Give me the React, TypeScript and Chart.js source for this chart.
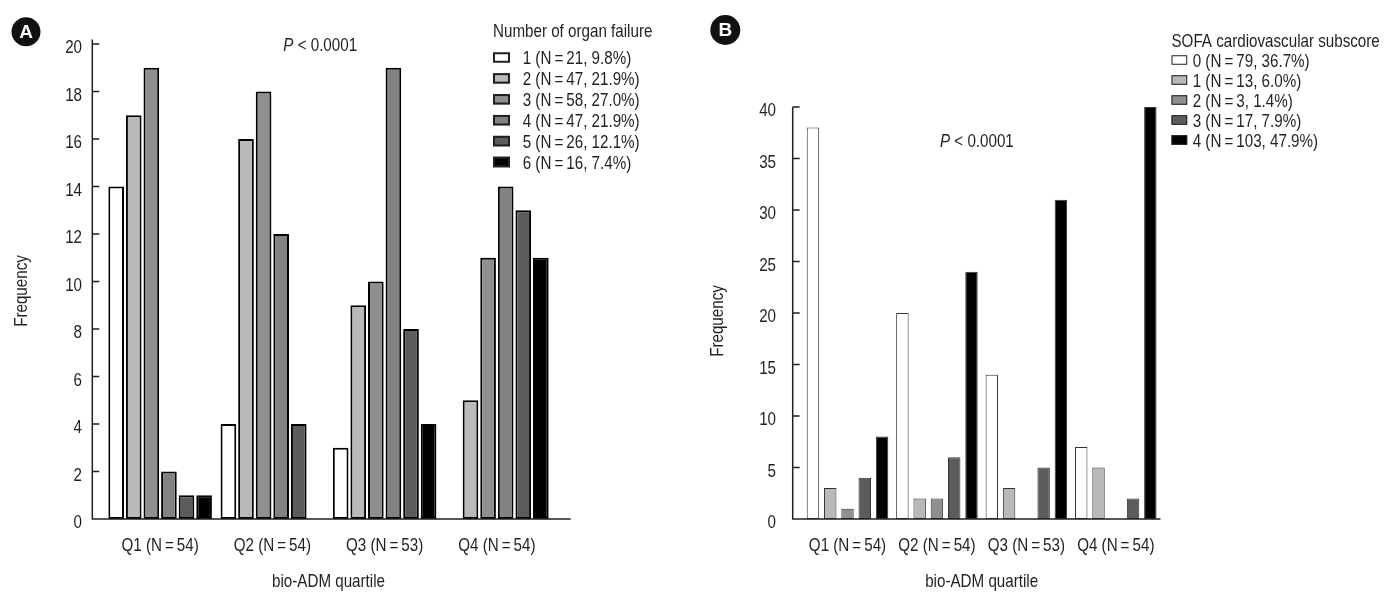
import React, { useEffect, useRef } from 'react';
import { Chart, registerables } from 'chart.js';

Chart.register(...registerables);

// ---------- data ----------
const T = '\u2009'; // thin space used around "=" in the original
const quartiles = [`Q1 (N${T}=${T}54)`, `Q2 (N${T}=${T}54)`, `Q3 (N${T}=${T}53)`, `Q4 (N${T}=${T}54)`];

const organLabels = [
  `1 (N${T}=${T}21, 9.8%)`,
  `2 (N${T}=${T}47, 21.9%)`,
  `3 (N${T}=${T}58, 27.0%)`,
  `4 (N${T}=${T}47, 21.9%)`,
  `5 (N${T}=${T}26, 12.1%)`,
  `6 (N${T}=${T}16, 7.4%)`,
];
const organ1 = [14, 4, 3, 0];
const organ2 = [17, 16, 9, 5];
const organ3 = [19, 18, 10, 11];
const organ4 = [2, 12, 19, 14];
const organ5 = [1, 4, 8, 13];
const organ6 = [1, 0, 4, 11];

const sofaLabels = [
  `0 (N${T}=${T}79, 36.7%)`,
  `1 (N${T}=${T}13, 6.0%)`,
  `2 (N${T}=${T}3, 1.4%)`,
  `3 (N${T}=${T}17, 7.9%)`,
  `4 (N${T}=${T}103, 47.9%)`,
];
const sofa0 = [38, 20, 14, 7];
const sofa1 = [3, 2, 3, 5];
const sofa2 = [1, 2, 0, 0];
const sofa3 = [4, 6, 5, 2];
const sofa4 = [8, 24, 31, 40];

const yMaxA = 20;
const yStepA = 2;
const yMaxB = 40;
const yStepB = 5;

const organTitle = 'Number of organ failure';
const sofaTitle = 'SOFA cardiovascular subscore';
const xTitle = 'bio-ADM quartile';
const yTitle = 'Frequency';
const pItalic = 'P';
const pText = ' < 0.0001';

// ---------- styles ----------
const BASE = "'Liberation Sans', Arial, sans-serif";
const FS = 18.5;
const SX = 0.82; // horizontal condensing
const TXT = '#231f20';
const organColors = ['#ffffff', '#b9b9b9', '#8f8f91', '#828284', '#5c5c5e', '#000000'];
const sofaColors = ['#ffffff', '#b9b9b9', '#8f8f91', '#5c5c5e', '#000000'];

function txt(ctx: CanvasRenderingContext2D, s: string, x: number, y: number, align: CanvasTextAlign = 'left', italic = false, rot = 0) {
  ctx.save();
  ctx.translate(x, y);
  if (rot) ctx.rotate(rot);
  ctx.scale(SX, 1);
  ctx.font = `${italic ? 'italic ' : ''}${FS}px ${BASE}`;
  ctx.textAlign = align;
  ctx.textBaseline = 'alphabetic';
  ctx.fillStyle = TXT;
  ctx.fillText(s, 0, 0);
  ctx.restore();
}
function measure(ctx: CanvasRenderingContext2D, s: string, italic = false) {
  ctx.save();
  ctx.font = `${italic ? 'italic ' : ''}${FS}px ${BASE}`;
  const w = ctx.measureText(s).width * SX;
  ctx.restore();
  return w;
}

const decorPlugin = {
  id: 'decor',
  afterDatasetsDraw(chart: any, _args: any, o: any) {
    const { ctx, chartArea } = chart;
    const y = chart.scales.y;
    const ax = chartArea.left - o.axisGap;
    const base = y.getPixelForValue(0);
    const top = y.getPixelForValue(y.max) - o.axisTopExtra;
    ctx.save();
    ctx.strokeStyle = TXT;
    ctx.lineWidth = 1.5;
    ctx.beginPath();
    ctx.moveTo(ax, top);
    ctx.lineTo(ax, base);
    ctx.lineTo(chartArea.right + o.axisRightExtra, base);
    y.ticks.forEach((t: any) => {
      const py = y.getPixelForValue(t.value);
      ctx.moveTo(ax, py);
      ctx.lineTo(ax + 7, py);
    });
    ctx.stroke();
    ctx.restore();
  },
  afterDraw(chart: any, _args: any, o: any) {
    const { ctx, chartArea } = chart;
    const x = chart.scales.x;
    const y = chart.scales.y;
    ctx.save();

    // y tick labels
    y.ticks.forEach((t: any) => {
      txt(ctx, String(t.value), chartArea.left - o.yTickPad, y.getPixelForValue(t.value) + 9.1, 'right');
    });
    // x tick labels
    chart.data.labels.forEach((l: string, i: number) => {
      txt(ctx, l, x.getPixelForTick(i), chartArea.bottom + 32.3, 'center');
    });
    // axis titles
    txt(ctx, xTitle, (chartArea.left + chartArea.right) / 2, o.xTitleY, 'center');
    txt(ctx, yTitle, o.yTitle.x, o.yTitle.y, 'center', false, -Math.PI / 2);

    // panel letter
    ctx.fillStyle = '#111';
    ctx.beginPath();
    ctx.arc(o.circle.x, o.circle.y, o.circle.r, 0, Math.PI * 2);
    ctx.fill();
    ctx.fillStyle = '#fff';
    ctx.font = `bold 19px ${BASE}`;
    ctx.textAlign = 'center';
    ctx.textBaseline = 'middle';
    ctx.fillText(o.letter, o.circle.x, o.circle.y + 1);

    // P value
    txt(ctx, pItalic, o.p.x, o.p.y, 'left', true);
    txt(ctx, pText, o.p.x + measure(ctx, pItalic, true), o.p.y, 'left');

    // legend
    const L = o.legend;
    txt(ctx, L.title, L.x, L.titleY, 'left');
    chart.data.datasets.forEach((ds: any, i: number) => {
      const cy = L.y0 + i * L.step;
      ctx.fillStyle = ds.backgroundColor;
      ctx.fillRect(L.x, cy - L.bh / 2, L.bw, L.bh);
      ctx.strokeStyle = TXT;
      ctx.lineWidth = L.bw2;
      ctx.strokeRect(L.x + L.bw2 / 2, cy - L.bh / 2 + L.bw2 / 2, L.bw - L.bw2, L.bh - L.bw2);
      txt(ctx, ds.label, L.tx, cy + 6.6, 'left');
    });
    ctx.restore();
  },
};

function makeConfig(p: any) {
  return {
    type: 'bar',
    data: {
      labels: quartiles,
      datasets: p.series.map((d: number[], i: number) => ({
        label: p.labels[i],
        data: d,
        backgroundColor: p.colors[i],
        borderColor: p.borderColor,
        borderWidth: p.borderWidth,
        borderSkipped: false,
        barPercentage: p.barPct,
        categoryPercentage: p.catPct,
      })),
    },
    options: {
      responsive: false,
      animation: false,
      devicePixelRatio: 1,
      layout: { padding: p.padding },
      plugins: {
        legend: { display: false },
        tooltip: { enabled: false },
        decor: p.decor,
      },
      scales: {
        x: {
          grid: { display: false, drawTicks: false },
          border: { display: false },
          ticks: { display: false },
          title: { display: false },
          afterFit: (s: any) => { s.height = 75; },
        },
        y: {
          min: 0,
          max: p.yMax,
          grid: { display: false, drawTicks: false },
          border: { display: false },
          ticks: { display: false, stepSize: p.yStep },
          title: { display: false },
          afterFit: (s: any) => { s.width = p.yWidth; },
        },
      },
    },
    plugins: [decorPlugin],
  };
}

const configA = () => makeConfig({
  series: [organ1, organ2, organ3, organ4, organ5, organ6],
  labels: organLabels,
  colors: organColors,
  borderColor: '#000',
  borderWidth: 2,
  barPct: 0.89,
  catPct: 0.94,
  padding: { left: 4, right: 139, top: 44, bottom: 0 },
  yMax: yMaxA,
  yStep: yStepA,
  yWidth: 100,
  decor: {
    yTickPad: 22,
    xTitleY: 587,
    yTitle: { x: 27, y: 291 },
    axisGap: 11.7,
    axisTopExtra: 4.5,
    axisRightExtra: 17.7,
    letter: 'A',
    circle: { x: 26, y: 31.7, r: 14.5 },
    p: { x: 283.3, y: 50.6 },
    legend: { title: organTitle, x: 493, titleY: 37, y0: 57.5, step: 20.9, bw: 17, bh: 10.5, bw2: 2, tx: 522.7 },
  },
});

const configB = () => makeConfig({
  series: [sofa0, sofa1, sofa2, sofa3, sofa4],
  labels: sofaLabels,
  colors: sofaColors,
  borderColor: '#333',
  borderWidth: 1,
  barPct: 0.72,
  catPct: 0.966,
  padding: { left: 10, right: 223.5, top: 107, bottom: 0 },
  yMax: yMaxB,
  yStep: yStepB,
  yWidth: 100.8,
  decor: {
    yTickPad: 26.8,
    xTitleY: 587,
    yTitle: { x: 31, y: 321 },
    axisGap: 10.1,
    axisTopExtra: 0,
    axisRightExtra: 0,
    letter: 'B',
    circle: { x: 33.3, y: 30, r: 15 },
    p: { x: 248, y: 146.6 },
    legend: { title: sofaTitle, x: 479.5, titleY: 46.7, y0: 60, step: 20, bw: 15.7, bh: 9.5, bw2: 1, tx: 500.7 },
  },
});

function Panel({ make }: { make: () => any }) {
  const ref = useRef<HTMLCanvasElement>(null);
  useEffect(() => {
    if (!ref.current) return;
    const chart = new Chart(ref.current, make());
    return () => chart.destroy();
  }, [make]);
  return <canvas ref={ref} width={692} height={594} style={{ display: 'block', width: 692, height: 594 }} />;
}

export default function App() {
  return (
    <div style={{ position: 'fixed', left: 0, top: 0, width: 1384, height: 594, background: '#fff', display: 'flex' }}>
      <Panel make={configA} />
      <Panel make={configB} />
    </div>
  );
}
